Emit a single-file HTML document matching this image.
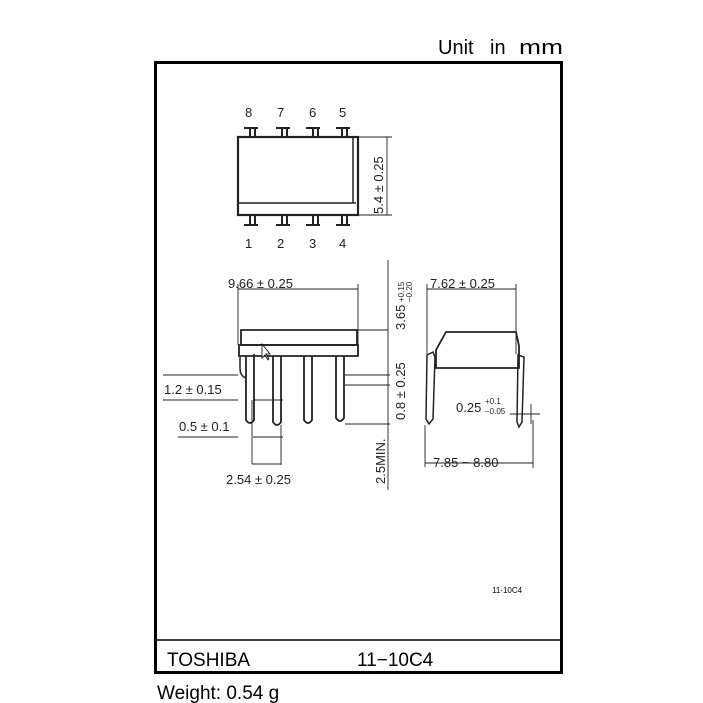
<!DOCTYPE html>
<html><head><style>
body{margin:0;background:#fff;}
svg{display:block;font-family:"Liberation Sans",sans-serif;}
</style></head><body>
<svg width="703" height="703" viewBox="0 0 703 703">
<text x="438" y="54" font-size="20" fill="#000">Unit</text>
<text x="490" y="54" font-size="20" fill="#000">in</text>
<text x="519" y="54" font-size="20" fill="#000" textLength="44" lengthAdjust="spacingAndGlyphs">mm</text>
<rect x="155.5" y="62.5" width="406" height="610" fill="none" stroke="#000" stroke-width="3"/>
<line x1="155" y1="640" x2="562" y2="640" stroke="#000" stroke-width="1.5"/>
<text x="167" y="666" font-size="19">TOSHIBA</text>
<text x="357" y="666" font-size="19">11−10C4</text>
<text x="157" y="699" font-size="19">Weight: 0.54 g</text>
<text x="492" y="593" font-size="8">11-10C4</text>
<g stroke="#222" fill="none" stroke-width="1.5">
<rect x="238" y="137" width="120" height="78" stroke-width="2.2"/>
<line x1="239" y1="203" x2="356" y2="203"/>
<line x1="353" y1="138" x2="353" y2="203"/>
<g stroke-width="2">
<path d="M244 128h14M250 128v9M255 128v9"/><path d="M276 128h14M282 128v9M287 128v9"/>
<path d="M306 128h14M313 128v9M318 128v9"/><path d="M336 128h14M342 128v9M347 128v9"/>
<path d="M244 225h14M250 215v10M255 215v10"/><path d="M276 225h14M282 215v10M287 215v10"/>
<path d="M306 225h14M313 215v10M318 215v10"/><path d="M336 225h14M342 215v10M347 215v10"/>
</g>
<line x1="358" y1="137" x2="392" y2="137" stroke-width="0.9"/>
<line x1="358" y1="215" x2="392" y2="215" stroke-width="0.9"/>
<line x1="387" y1="137" x2="387" y2="215" stroke-width="0.9"/>
<line x1="238" y1="289" x2="358" y2="289" stroke-width="0.9"/>
<line x1="238" y1="284" x2="238" y2="345" stroke-width="0.9"/>
<line x1="358" y1="284" x2="358" y2="345" stroke-width="0.9"/>
<path d="M241 330h116v15h-116z" stroke-width="1.8"/>
<path d="M239 345h119v11h-119z" stroke-width="1.8"/>
<path d="M240 356v12q0 8 6 10"/>
<path d="M246 356v64q4 6 8 0v-66M273 356v66q4 6 8 0v-66M304 356v64q4 6 8 0v-64M336 356v62q4 6 8 0v-62" stroke-width="1.8"/>
<path d="M238 375h-75M238 400h-75M283 400h-30M238 437h-60M283 437h-30" stroke-width="0.9"/>
<path d="M252 400v64M281 425v40M252 464h29" stroke-width="0.9"/>
<path d="M358 330h30M345 375h45M345 385h45M345 424h45" stroke-width="0.9"/>
<path d="M388 260v230" stroke-width="0.9"/>
<path d="M427 289h89M427 284v70M516 284v70" stroke-width="0.9"/>
<path d="M446 332h70l3 14v22h-83v-18z" stroke-width="1.8"/>
<path d="M427 355l6-3 2 5-2 62-4 5-3-5z"/>
<path d="M518 355l6 2-2 65-3 5-2-5z"/>
<path d="M425 425v42M533 420v48M425 463h108" stroke-width="0.9"/>
<path d="M510 414h30M531 404v20" stroke-width="0.9"/>
</g>
<g font-size="13" fill="#222">
<text x="245" y="117">8</text><text x="277" y="117">7</text><text x="309" y="117">6</text><text x="339" y="117">5</text>
<text x="245" y="248">1</text><text x="277" y="248">2</text><text x="309" y="248">3</text><text x="339" y="248">4</text>
<text x="228" y="288">9.66 ± 0.25</text>
<text x="164" y="394">1.2 ± 0.15</text>
<text x="179" y="431">0.5 ± 0.1</text>
<text x="226" y="484">2.54 ± 0.25</text>
<text x="430" y="288">7.62 ± 0.25</text>
<text x="433" y="467">7.85 − 8.80</text>
<text x="456" y="412">0.25</text>
<text x="485" y="404" font-size="8">+0.1</text>
<text x="485" y="414" font-size="8">−0.05</text>
<text transform="translate(383,214) rotate(-90)">5.4 ± 0.25</text>
<text transform="translate(405,330) rotate(-90)">3.65</text>
<text transform="translate(404,302) rotate(-90)" font-size="8">+0.15</text>
<text transform="translate(412,302) rotate(-90)" font-size="8">−0.20</text>
<text transform="translate(405,420) rotate(-90)">0.8 ± 0.25</text>
<text transform="translate(385,484) rotate(-90)">2.5MIN.</text>
</g>
<path d="M262 344v14l3-3 3 5 1-1-3-5h4z" fill="#fff" stroke="#000" stroke-width="0.8"/>
</svg>
</body></html>
